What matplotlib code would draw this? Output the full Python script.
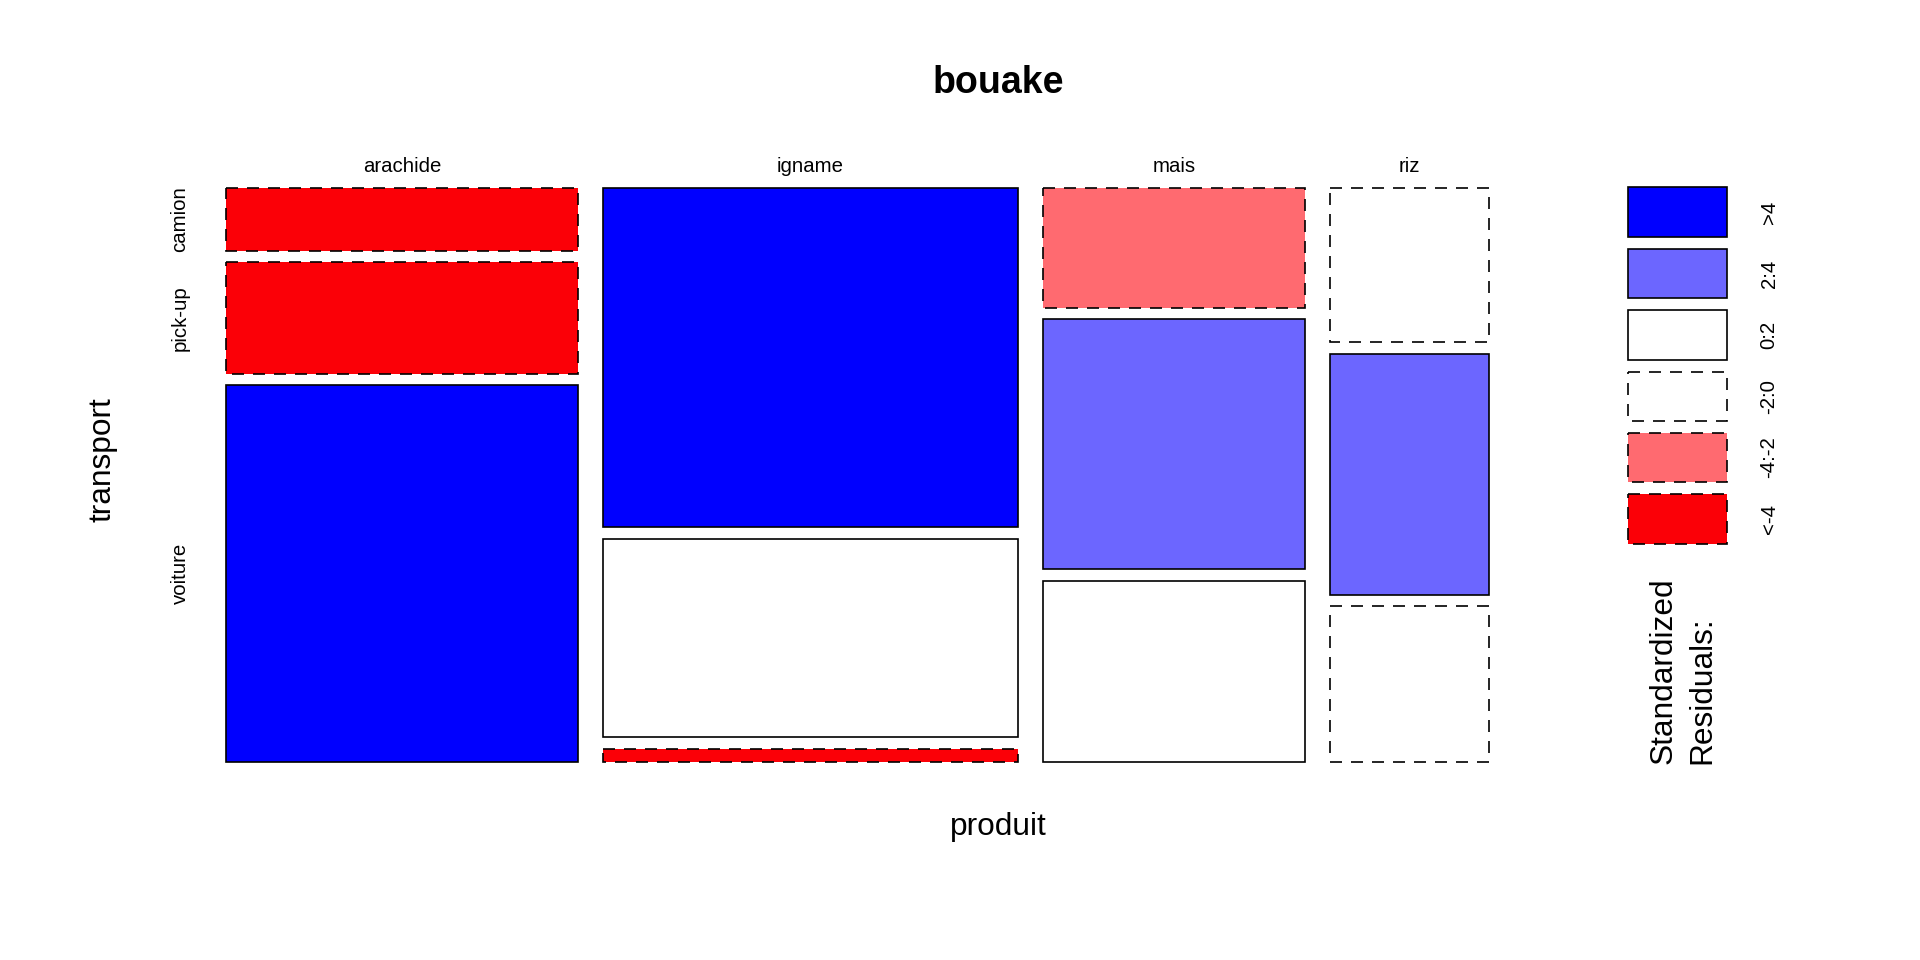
import matplotlib
matplotlib.use("Agg")
import matplotlib.pyplot as plt
from matplotlib.patches import Rectangle

plt.rcParams['font.family'] = ['Liberation Sans', 'DejaVu Sans']

# ---- data ----
products = ["arachide", "igname", "mais", "riz"]
transports = ["camion", "pick-up", "voiture"]
product_share = [29.65, 34.92, 22.06, 13.37]          # % of all records
transport_share = {                                    # % within product
    "arachide": [11.4, 20.3, 68.3],
    "igname":   [61.6, 36.0, 2.4],
    "mais":     [21.8, 45.3, 32.9],
    "riz":      [28.0, 43.7, 28.3],
}
residual_class = {                                     # standardized residual bins
    "arachide": ["<-4", "<-4", ">4"],
    "igname":   [">4", "0:2", "<-4"],
    "mais":     ["-4:-2", "2:4", "0:2"],
    "riz":      ["-2:0", "2:4", "-2:0"],
}
legend_classes = [">4", "2:4", "0:2", "-2:0", "-4:-2", "<-4"]
class_color = {">4": "#0000FF", "2:4": "#6C66FF", "0:2": "#FFFFFF",
               "-2:0": "#FFFFFF", "-4:-2": "#FF6A70", "<-4": "#FB0007"}
class_dashed = {">4": False, "2:4": False, "0:2": False,
                "-2:0": True, "-4:-2": True, "<-4": True}

W, H = 1920, 960
fig = plt.figure(figsize=(19.2, 9.6), dpi=100)

LW = 1.2
DASH = (0, (7.2, 5.4))

def style(cls):
    return dict(facecolor=class_color[cls], edgecolor="black", linewidth=LW,
                linestyle=DASH if class_dashed[cls] else "-")

# mosaic axes
x0, x1, y0, y1 = 225.7, 1489.0, 187.7, 762.0
ax = fig.add_axes([x0 / W, 1 - y1 / H, (x1 - x0) / W, (y1 - y0) / H])
ax.set_xlim(0, 1)
ax.set_ylim(1, 0)
ax.axis("off")

gx = 25.0 / (x1 - x0)
gy = 11.4 / (y1 - y0)
tot = sum(product_share)
avail_x = 1 - gx * (len(products) - 1)
xs = 0.0
col_centers = []
first_col_rows = []
for i, p in enumerate(products):
    w = product_share[i] / tot * avail_x
    shares = transport_share[p]
    st = sum(shares)
    avail_y = 1 - gy * (len(transports) - 1)
    ys = 0.0
    for j, t in enumerate(transports):
        h = shares[j] / st * avail_y
        ax.add_patch(Rectangle((xs, ys), w, h, clip_on=False,
                               **style(residual_class[p][j])))
        if i == 0:
            first_col_rows.append(ys + h / 2)
        ys += h + gy
    col_centers.append(xs + w / 2)
    xs += w + gx

# column labels
for p, c in zip(products, col_centers):
    fx = (x0 + c * (x1 - x0)) / W
    fig.text(fx, 1 - 166.5 / H, p, ha="center", va="center", fontsize=14.7)

# row labels
for t, r in zip(transports, first_col_rows):
    fy = 1 - (y0 + r * (y1 - y0)) / H
    fig.text(180 / W, fy, t, ha="center", va="center", rotation=90, fontsize=14.7)

# title and axis labels
fig.text(998 / W, 1 - 92.7 / H, "bouake", ha="center", va="baseline",
         fontsize=27, fontweight="bold")
fig.text(998 / W, 1 - 827 / H, "produit", ha="center", va="center", fontsize=22.8)
fig.text(102 / W, 1 - 460 / H, "transport", ha="center", va="center",
         rotation=90, fontsize=22.8)

# legend
lax = fig.add_axes([0, 0, 1, 1])
lax.set_xlim(0, W)
lax.set_ylim(H, 0)
lax.axis("off")
bx0, bx1 = 1628.3, 1727.3
top0, pitch, bh = 187.3, 61.4, 49.4
for k, cls in enumerate(legend_classes):
    ty = top0 + k * pitch
    lax.add_patch(Rectangle((bx0, ty), bx1 - bx0, bh, **style(cls)))
    lax.text(1769, ty + bh / 2, cls, ha="center", va="center", rotation=90,
             fontsize=14.7)
lax.text(1664, 764, "Standardized", ha="left", va="center", rotation=90,
         fontsize=22.8, rotation_mode="anchor")
lax.text(1702.5, 764, "Residuals:", ha="left", va="center", rotation=90,
         fontsize=22.8, rotation_mode="anchor")

fig.savefig("out.png", dpi=100, facecolor="white")
